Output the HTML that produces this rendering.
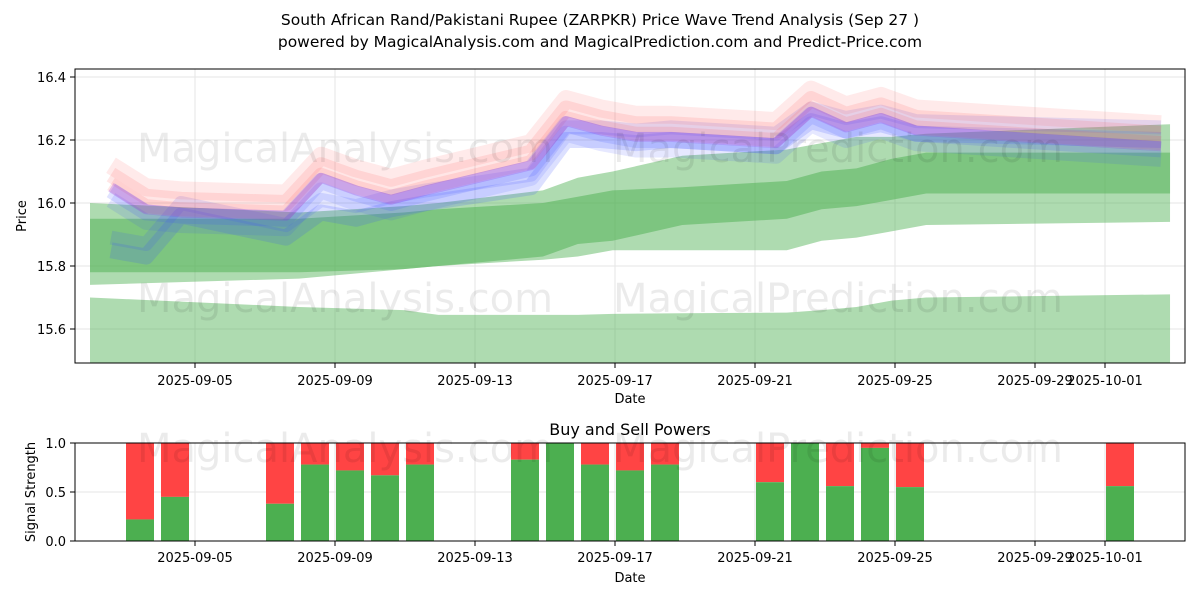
<!DOCTYPE html>
<html><head><meta charset="utf-8"><style>
body{margin:0;background:#fff;font-family:"Liberation Sans","DejaVu Sans",sans-serif}
svg text{font-family:"DejaVu Sans","Liberation Sans",sans-serif}
</style></head><body>
<svg id="c" width="1200" height="600" xmlns="http://www.w3.org/2000/svg"></svg>
<script>
// data
const bandDays=[0,6,9,10,13,14,15,17,20,21,22,23,24,31];
const b1Lo=[15.49,15.49,15.49,15.49,15.49,15.49,15.49,15.49,15.49,15.49,15.49,15.49,15.49,15.49];
const b1Hi=[15.70,15.67,15.66,15.645,15.645,15.645,15.648,15.65,15.652,15.66,15.67,15.69,15.70,15.71];
const b2Lo=[15.74,15.76,15.79,15.80,15.82,15.83,15.85,15.85,15.85,15.88,15.89,15.91,15.93,15.94];
const b2Hi=[16.00,15.97,15.99,16.00,16.04,16.08,16.10,16.15,16.17,16.19,16.21,16.21,16.22,16.25];
const b3Lo=[15.78,15.78,15.79,15.80,15.83,15.87,15.88,15.93,15.95,15.98,15.99,16.01,16.03,16.03];
const b3Hi=[15.95,15.95,15.97,15.98,16.00,16.02,16.04,16.05,16.07,16.10,16.11,16.14,16.16,16.16];
const priceDays=[0.6,1.6,2.6,5.6,6.6,7.6,8.6,9.6,12.6,13.6,14.6,15.6,16.6,19.6,20.6,21.6,22.6,23.6,30.6];
const price=[16.06,15.99,15.98,15.97,16.09,16.05,16.02,16.05,16.13,16.27,16.24,16.22,16.22,16.20,16.30,16.25,16.28,16.24,16.19];
const lowPath=[15.85,15.83,15.96,15.89,15.97,15.95,15.98,16.0,16.05,16.20,16.20,16.19,16.20,16.18,16.26,16.23,16.25,16.22,16.20];
const sigDays=[2,3,6,7,8,9,10,13,14,15,16,17,20,21,22,23,24,30];
const buy=[0.22,0.45,0.38,0.78,0.72,0.67,0.78,0.83,1.0,0.78,0.72,0.78,0.6,1.0,0.56,0.95,0.55,0.56];
const yTicks=[15.6,15.8,16.0,16.2,16.4];
const xTickDays=[3,7,11,15,19,23,27,29];
const xTickLabels=["2025-09-05","2025-09-09","2025-09-13","2025-09-17","2025-09-21","2025-09-25","2025-09-29","2025-10-01"];

const S=document.getElementById('c'),NS='http://www.w3.org/2000/svg';
function el(t,a,p){const e=document.createElementNS(NS,t);for(const k in a)e.setAttribute(k,a[k]);(p||S).appendChild(e);return e;}
const X=d=>90+d*35;
const Y=v=>203-(v-16.0)*315;
const Y2=v=>541-v*98;
function txt(x,y,s,sz,anchor,name){const t=el('text',{x:x,y:y,'font-size':sz,'text-anchor':anchor||'middle',fill:'#000'});t.textContent=s;return t;}
txt(600,25,"South African Rand/Pakistani Rupee (ZARPKR) Price Wave Trend Analysis (Sep 27 )",15.5,'middle','chart-title');
txt(600,47,"powered by MagicalAnalysis.com and MagicalPrediction.com and Predict-Price.com",15.5,'middle','chart-subtitle');
for(const v of yTicks){el('line',{x1:75,x2:1185,y1:Y(v),y2:Y(v),stroke:'#e5e5e5'});
 el('line',{x1:70,x2:75,y1:Y(v),y2:Y(v),stroke:'#000'});txt(66,Y(v)+5,v.toFixed(1),13,'end','y-tick-label');}
xTickDays.forEach((d,i)=>{el('line',{x1:X(d),x2:X(d),y1:69,y2:363,stroke:'#e5e5e5'});el('line',{x1:X(d),x2:X(d),y1:363,y2:368,stroke:'#000'});
 txt(X(d),385,xTickLabels[i],13,'middle','x-tick-label');
 el('line',{x1:X(d),x2:X(d),y1:443,y2:541,stroke:'#e5e5e5'});el('line',{x1:X(d),x2:X(d),y1:541,y2:546,stroke:'#000'});
 txt(X(d),562,xTickLabels[i],13,'middle','x-tick-label-signal');});
const clip=el('clipPath',{id:'cp'});el('rect',{x:75,y:69,width:1110,height:294},clip);
const g=el('g',{'clip-path':'url(#cp)'});
function bandG(lo,hi,op,name){let p='';bandDays.forEach((d,i)=>p+=(i?'L':'M')+(X(d)-d*0.16)+','+Y(hi[i]));
 for(let i=bandDays.length-1;i>=0;i--)p+='L'+(X(bandDays[i])-bandDays[i]*0.16)+','+Y(lo[i]);
 const e=el('path',{d:p+'Z',fill:'#4caf50','fill-opacity':op},g);}
bandG(b1Lo,b1Hi,0.45,'band-outer-low');
bandG(b2Lo,b2Hi,0.45,'band-middle');
bandG(b3Lo,b3Hi,0.5,'band-inner');
function line(vals,off,col,w,op,name){let p='';priceDays.forEach((d,i)=>p+=(i?'L':'M')+X(d)+','+Y(vals[i]+off));
 const e=el('path',{d:p,fill:'none',stroke:col,'stroke-width':w,'stroke-opacity':op,'stroke-linejoin':'round'},g);}
line(lowPath,0,'#3f51ff',16,0.18,'wave-blue-low');
line(lowPath,0.04,'#3f51ff',14,0.15,'wave-blue-low2');
line(price,0.06,'#ff5050',18,0.12,'wave-red-high');
line(price,0.03,'#ff5050',16,0.14,'wave-red');
line(price,0.0,'#ff5050',14,0.14,'wave-red-2');
line(price,-0.02,'#3f51ff',16,0.16,'wave-blue');
line(price,-0.05,'#3f51ff',16,0.13,'wave-blue-2');
line(price,-0.01,'#8a2be2',10,0.25,'wave-purple');
el('rect',{x:75,y:69,width:1110,height:294,fill:'none',stroke:'#000'});
txt(630,403,'Date',13,'middle','x-axis-title');
const yt=txt(26,216,'Price',13,'middle','y-axis-title');yt.setAttribute('transform','rotate(-90 26 216)');
txt(345,162,'MagicalAnalysis.com',40,'middle','watermark').setAttribute('fill-opacity','0.08');
txt(838,162,'MagicalPrediction.com',40,'middle','watermark').setAttribute('fill-opacity','0.08');
txt(345,312,'MagicalAnalysis.com',40,'middle','watermark').setAttribute('fill-opacity','0.08');
txt(838,312,'MagicalPrediction.com',40,'middle','watermark').setAttribute('fill-opacity','0.08');
txt(630,435,'Buy and Sell Powers',16,'middle','signal-title');
[0,0.5,1].forEach(v=>{el('line',{x1:75,x2:1185,y1:Y2(v),y2:Y2(v),stroke:'#e5e5e5'});el('line',{x1:70,x2:75,y1:Y2(v),y2:Y2(v),stroke:'#000'});txt(66,Y2(v)+5,v.toFixed(1),13,'end','signal-y-tick');});
sigDays.forEach((d,i)=>{const x=X(d)-34;
 const r=el('rect',{x:x,y:Y2(1),width:28,height:Y2(buy[i])-Y2(1),fill:'#ff4444'});
 const b=el('rect',{x:x,y:Y2(buy[i]),width:28,height:Y2(0)-Y2(buy[i]),fill:'#4caf50'});});
txt(345,462,'MagicalAnalysis.com',40,'middle','watermark').setAttribute('fill-opacity','0.08');
txt(838,462,'MagicalPrediction.com',40,'middle','watermark').setAttribute('fill-opacity','0.08');
el('rect',{x:75,y:443,width:1110,height:98,fill:'none',stroke:'#000'});
txt(630,582,'Date',13,'middle','signal-x-axis-title');
const yt2=txt(35,492,'Signal Strength',13,'middle','signal-y-axis-title');yt2.setAttribute('transform','rotate(-90 35 492)');
</script>
</body></html>
